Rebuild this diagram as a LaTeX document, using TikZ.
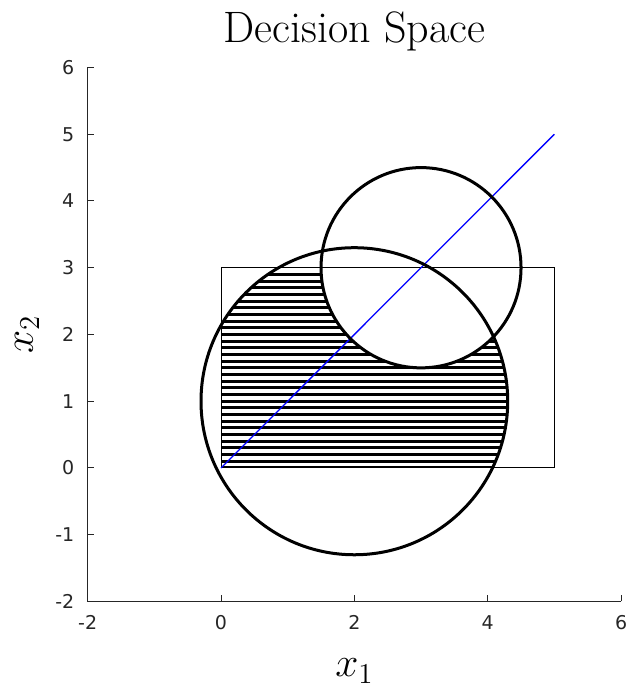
\documentclass[tikz,border=0pt]{standalone}
\usepackage{amsmath}
\usepackage{fontspec}
\newfontfamily\ticksfont{DejaVu Sans}
\usepackage{xcolor}
\usepackage{tikz}
\usetikzlibrary{positioning,calc}

\definecolor{axisgray}{RGB}{38,38,38}
\tikzset{
  axisline/.style={axisgray,line width=0.5pt},
  ticklabel/.style={text=axisgray,font=\ticksfont\fontsize{9.5}{11}\selectfont,inner sep=0pt},
  biglabel/.style={font=\fontsize{22}{26}\selectfont,inner sep=0pt},
  ringline/.style={black,line width=1.5pt},
  hatchline/.style={black,line width=1.5pt}
}

\begin{document}
\begin{tikzpicture}[x=33.33pt,y=33.37pt]
  \useasboundingbox (-3.315,-3.281) rectangle (6.12,7.011);

  % hatched part: box and big ring, minus small ring
  \begin{scope}[even odd rule]
    \clip (0,0) rectangle (5,3);
    \clip (2,1) circle (2.3);
    \clip (-3,-3) rectangle (7,7) (3,3) circle (1.5);
    \foreach \i in {0,...,29}{
      \draw[hatchline] (-1,\i/10) -- (6,\i/10);
    }
  \end{scope}

  \draw[black,line width=0.5pt] (0,0) rectangle (5,3);
  \coordinate (start) at (0,0);
  \coordinate (stop) at (5,5);
  \draw[blue,line width=0.65pt] (start) -- (stop);
  \draw[ringline] (2,1) circle (2.3);
  \draw[ringline] (3,3) circle (1.5);

  % axes
  \coordinate (corner) at (-2,-2);
  \coordinate (ytop) at (-2,6);
  \coordinate (xend) at (6,-2);
  \draw[axisline] (ytop) -- (corner) -- (xend);
  \foreach \y in {-2,...,6}{
    \draw[axisline] (-2,\y) -- ++(3pt,0);
    \node[ticklabel,anchor=east] (yt\y) at ($(-2,\y)+(-6.5pt,0)$) {\y};
  }
  \foreach \x in {-2,0,2,4,6}{
    \draw[axisline] (\x,-2) -- ++(0,3pt);
    \node[ticklabel,anchor=north] (xt\x) at ($(\x,-2)+(0,-7pt)$) {\x};
  }

  \node[biglabel,anchor=base] (title) at (2,6.367) {Decision Space};
  \node[biglabel,anchor=base] (xlab) at (2,-3.13) {$x_1$};
  \node[biglabel,anchor=base,rotate=90] (ylab) at (-2.82,2) {$x_2$};
\end{tikzpicture}
\end{document}
